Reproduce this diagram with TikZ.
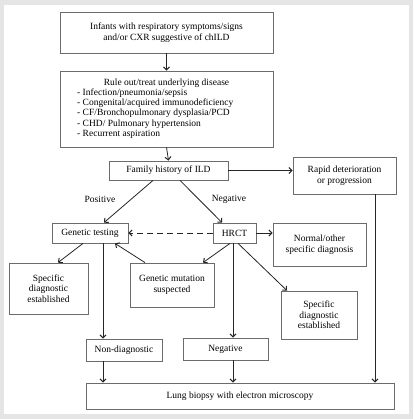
\documentclass[tikz,border=0pt]{standalone}
\usepackage{fontspec}
\setmainfont{Liberation Serif}
\usetikzlibrary{arrows.meta,calc}
\definecolor{framegray}{rgb}{0.9,0.9,0.9}
\definecolor{boxgray}{rgb}{0.42,0.42,0.42}
\definecolor{arrowgray}{rgb}{0.15,0.15,0.15}

\begin{document}
\begin{tikzpicture}[x=1pt,y=-1pt,
	>={Straight Barb[length=3pt,width=6pt,line width=1pt]},
	box/.style={draw=boxgray,line width=0.8pt,inner sep=0pt,align=center,
		font=\fontsize{9.5}{10.6}\selectfont},
	lbl/.style={inner sep=1pt,font=\fontsize{9.5}{10.3}\selectfont},
	link/.style={->,draw=arrowgray,line width=0.8pt}]
\def\boxat#1#2#3#4#5#6{
	\node[box,minimum width=#4pt,minimum height=#5pt] (#1) at (#2,#3) {#6};
}
% frame
\fill[framegray] (0,0) rectangle (413,419);
\fill[white] (4,5) rectangle (409,414);
\useasboundingbox (0,0) rectangle (413,419);

\boxat{infants}{166.5}{32.5}{213}{41}{Infants with respiratory symptoms/signs\\
	and/or CXR suggestive of chILD}
\boxat{ruleout}{166.5}{109}{213}{76}{}
\node[lbl] (ruletitle) at (166.5,83) {Rule out/treat underlying disease};
\node[lbl,anchor=west,align=left] (rulelist) at (76,113.5)
	{- Infection/pneumonia/sepsis\\
	- Congenital/acquired immunodeficiency\\
	- CF/Bronchopulmonary dysplasia/PCD\\
	- CHD/ Pulmonary hypertension\\
	- Recurrent aspiration};
\boxat{family}{168.5}{170.5}{119}{19}{Family history of ILD}
\boxat{rapid}{344.5}{175.5}{103}{37}{Rapid deterioration\\or progression}
\boxat{gentest}{90}{233}{76}{20}{Genetic testing}
\boxat{hrct}{234.5}{233}{43}{20}{HRCT}
\boxat{normal}{319.5}{244.5}{93}{43}{Normal/other\\specific diagnosis}
\boxat{specleft}{48.5}{288.5}{79}{51}{Specific\\diagnostic\\established}
\boxat{mutation}{172}{285}{84}{44}{Genetic mutation\\suspected}
\boxat{specright}{319}{315}{76}{48}{Specific\\diagnostic\\established}
\boxat{nondiag}{124}{350}{76}{22}{Non-diagnostic}
\boxat{negative}{225.5}{349}{85}{22}{Negative}
\boxat{biopsy}{240}{396}{308}{26}{Lung biopsy with electron microscopy}

\node[lbl] (pos) at (100,199) {Positive};
\node[lbl] (neg) at (229,199) {Negative};

\draw[link] (infants.south) -- (ruleout.north);
\draw[link] (ruleout.south) -- (family.north);
\draw[link] (family.east) -- (family.east -| rapid.west);

\draw[link] ([xshift=-15.5pt]family.south) -- ([xshift=14pt]gentest.north);
\draw[link] ([xshift=11.5pt]family.south) -- ([xshift=-12.5pt]hrct.north);

\draw[link,dashed,dash pattern=on 6pt off 4pt] (hrct.west) -- (gentest.east);
\draw[link] (hrct.east) -- (hrct.east -| normal.west);

\draw[link] ([xshift=-7pt]gentest.south) -- ([xshift=9.5pt]specleft.north);
\draw[link] ([xshift=-27pt]mutation.north) -- ([xshift=25pt]gentest.south);
\draw[link] ([xshift=-4.5pt]hrct.south) -- ([xshift=31pt]mutation.north);
\draw[link] ([xshift=3.5pt]hrct.south) -- ([xshift=-32pt]specright.north);
\draw[link] ([xshift=-1.5pt]hrct.south) -- ([xshift=-1.5pt]hrct.south |- negative.north);
\draw[link] ([xshift=13pt]gentest.south) -- ([xshift=13pt]gentest.south |- nondiag.north);

\draw[link] ([xshift=-21pt]nondiag.south) -- ([xshift=-21pt]nondiag.south |- biopsy.north);
\draw[link] ([xshift=7.5pt]negative.south) -- ([xshift=7.5pt]negative.south |- biopsy.north);
\draw[link] ([xshift=30.5pt]rapid.south) -- ([xshift=30.5pt]rapid.south |- biopsy.north);

\end{tikzpicture}
\end{document}
